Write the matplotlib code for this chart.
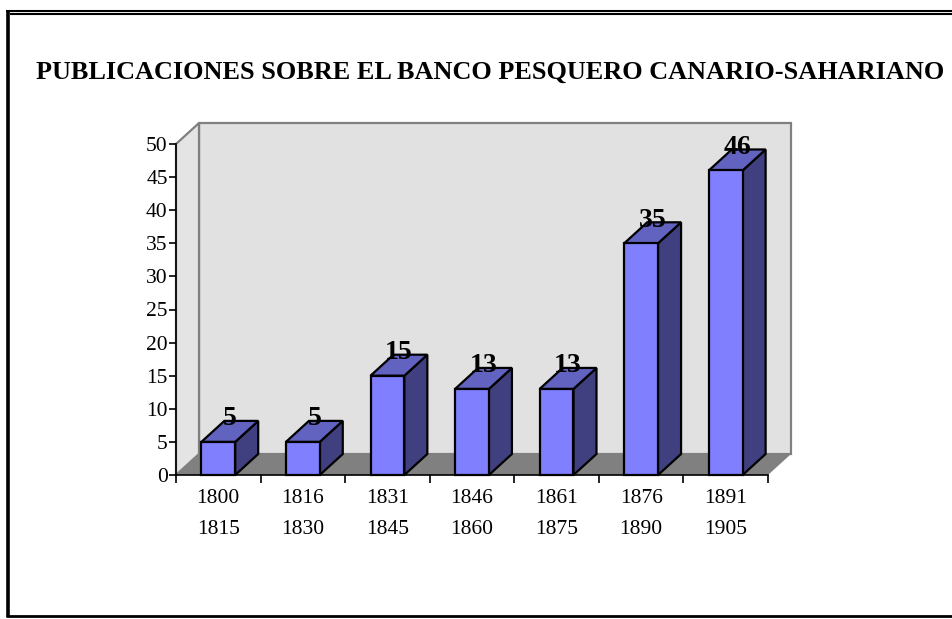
import matplotlib
matplotlib.use("Agg")
import matplotlib.pyplot as plt
from matplotlib.patches import Polygon, Rectangle
from matplotlib.lines import Line2D

# ---------------- data ----------------
categories = ["1800\n1815", "1816\n1830", "1831\n1845", "1846\n1860",
              "1861\n1875", "1876\n1890", "1891\n1905"]
values = [5, 5, 15, 13, 13, 35, 46]
yticks = [0, 5, 10, 15, 20, 25, 30, 35, 40, 45, 50]
title = "PUBLICACIONES SOBRE EL BANCO PESQUERO CANARIO-SAHARIANO"

# ---------------- figure ----------------
W, H, DPI = 952, 619, 100
fig = plt.figure(figsize=(W / DPI, H / DPI), dpi=DPI)
fig.patch.set_facecolor("white")
SERIF = ["Liberation Serif", "DejaVu Serif"]

L, R, B, T = 176, 768, 475, 144   # plot front-face box in pixels (from top)
ax = fig.add_axes([L / W, 1 - B / H, (R - L) / W, (B - T) / H])
n = len(values)
ax.set_xlim(0, n)
ax.set_ylim(yticks[0], yticks[-1])
ax.patch.set_visible(False)

# depth offset (pixels) converted to data units
DX, DY = 23, 21
fig.canvas.draw()
p0 = ax.transData.transform((0, 0))
ddx, ddy = ax.transData.inverted().transform((p0[0] + DX, p0[1] + DY))
ymax = yticks[-1]

WALL = "#E1E1E1"
EDGE = "#808080"
# back wall
ax.add_patch(Rectangle((ddx, ddy), n, ymax, fc=WALL, ec=EDGE, lw=1.6,
                       clip_on=False, zorder=0.5))
# left side wall
ax.add_patch(Polygon([(0, 0), (0, ymax), (ddx, ymax + ddy), (ddx, ddy)],
                     closed=True, fc="#E4E4E4", ec=EDGE, lw=1.6,
                     clip_on=False, zorder=0.6))
# floor
ax.add_patch(Polygon([(0, 0), (n, 0), (n + ddx, ddy), (ddx, ddy)],
                     closed=True, fc="#808080", ec="none",
                     clip_on=False, zorder=0.7))

# bars
bw = 0.4
for i, v in enumerate(values):
    c = i + 0.5
    x0, x1 = c - bw / 2, c + bw / 2
    ax.add_patch(Polygon([(x1, 0), (x1 + ddx, ddy), (x1 + ddx, v + ddy), (x1, v)],
                         closed=True, fc="#404080", ec="black", lw=1.6,
                         joinstyle="miter", clip_on=False, zorder=2))
    ax.add_patch(Polygon([(x0, v), (x1, v), (x1 + ddx, v + ddy), (x0 + ddx, v + ddy)],
                         closed=True, fc="#6262C0", ec="black", lw=1.6,
                         joinstyle="miter", clip_on=False, zorder=2))
    ax.add_patch(Rectangle((x0, 0), bw, v, fc="#8080FF", ec="black", lw=1.6,
                           joinstyle="miter", clip_on=False, zorder=3))
    ax.text(c + ddx / 2, v + ddy + 0.3, str(v), ha="center", va="center",
            fontsize=20, fontweight="bold", family=SERIF, zorder=4,
            clip_on=False)

# axes, ticks
for s in ("top", "right"):
    ax.spines[s].set_visible(False)
for s in ("left", "bottom"):
    ax.spines[s].set_color("black")
    ax.spines[s].set_linewidth(1.2)
    ax.spines[s].set_zorder(1)
ax.set_yticks(yticks)
ax.set_yticklabels([str(t) for t in yticks], family=SERIF, fontsize=15.5)
ax.tick_params(axis="y", direction="out", length=5, width=1.2, pad=1)
ax.set_xticks(range(n + 1))
ax.set_xticklabels([])
ax.tick_params(axis="x", which="major", direction="out", length=6, width=1.2)
ax.set_xticks([i + 0.5 for i in range(n)], minor=True)
ax.set_xticklabels(categories, minor=True, family=SERIF, fontsize=15.5,
                   linespacing=1.85)
ax.tick_params(axis="x", which="minor", length=0, pad=10)

# title (fit to measured width)
t = fig.text(490 / W, 1 - 72 / H, title, ha="center", va="center",
             fontsize=24, fontweight="bold", family=SERIF)
fig.canvas.draw()
w = t.get_window_extent().width
t.set_fontsize(24 * 910 / w)

# outer frame
def hline(y, x0, x1, lw):
    fig.add_artist(Line2D([x0 / W, x1 / W], [1 - y / H, 1 - y / H],
                          color="black", lw=lw, transform=fig.transFigure,
                          solid_capstyle="butt"))

def vline(x, y0, y1, lw):
    fig.add_artist(Line2D([x / W, x / W], [1 - y0 / H, 1 - y1 / H],
                          color="black", lw=lw, transform=fig.transFigure,
                          solid_capstyle="butt"))

hline(10.8, 6, W, 1.5)
hline(14.3, 10, W, 1.5)
vline(8, 10, 617, 2.6)
hline(616, 6, W, 2.0)

fig.savefig("out.png", dpi=DPI)
